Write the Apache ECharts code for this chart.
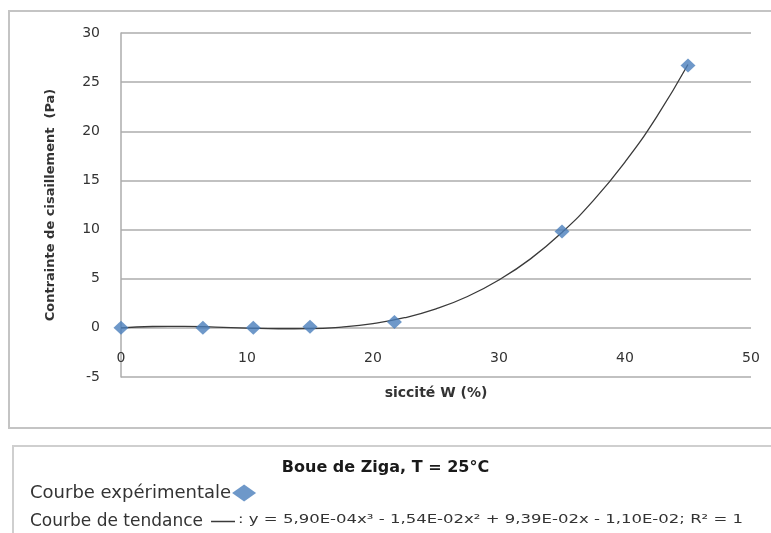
<!DOCTYPE html>
<html>
<head>
<meta charset="utf-8">
<title>Boue de Ziga</title>
<script src="https://cdn.jsdelivr.net/npm/echarts@6/dist/echarts.min.js"></script>
<style>
  html, body { margin: 0; padding: 0; background: #fff; }
  #chart { width: 771px; height: 533px; }
</style>
</head>
<body>
<div id="chart"></div>
<script>
// points expérimentaux : siccité W (%) / contrainte (Pa)
const siccite = [0, 6.5, 10.5, 15, 21.7, 35, 45];
const contrainte = [0, 0, 0, 0.1, 0.6, 9.8, 26.7];

// courbe de tendance
const trendX = [0, 2.5, 5, 7.5, 10, 12.5, 15, 17.5, 20, 22.5, 25, 27.5, 30, 32.5, 35, 37.5, 40, 42.5, 45];
const trendY = [0, 0.14, 0.15, 0.08, -0.02, -0.09, -0.08, 0.08, 0.43, 1.03, 1.93, 3.19, 4.88, 7.02, 9.71, 12.97, 16.87, 21.45, 26.79];

const xTicks = [0, 10, 20, 30, 40, 50];
const yTicks = [-5, 0, 5, 10, 15, 20, 25, 30];

const titre = "Boue de Ziga, T = 25°C";
const equation = ": y = 5,90E-04x³ - 1,54E-02x² + 9,39E-02x - 1,10E-02; R² = 1";

const font = "'DejaVu Sans', 'Liberation Sans', sans-serif";
const gridColor = "#adadad";
const textColor = "#333";

const chart = echarts.init(document.getElementById("chart"));

const option = {
  animation: false,
  textStyle: { fontFamily: font },
  title: {
    text: titre,
    left: "center",
    top: 455,
    textStyle: { fontSize: 16, fontWeight: "bold", color: "#1a1a1a", fontFamily: font }
  },
  // deux légendes : l'icône est à droite du texte
  legend: [
    {
      data: ["Courbe expérimentale"],
      left: 25,
      top: 479,
      align: "right",
      itemWidth: 24,
      itemHeight: 17,
      itemGap: 2,
      textStyle: { fontSize: 18, color: textColor, fontFamily: font, padding: [0, -4, 0, 0] }
    },
    {
      data: ["Courbe de tendance"],
      left: 25,
      top: 508,
      align: "right",
      icon: "rect",
      itemWidth: 24,
      itemHeight: 1.5,
      textStyle: { fontSize: 17, color: textColor, fontFamily: font, padding: [0, 3, 0, 0] }
    }
  ],
  graphic: [
    // cadre du graphique
    { type: "rect", shape: { x: 9, y: 11, width: 770, height: 417 }, style: { fill: null, stroke: "#c4c4c4", lineWidth: 2 }, z: -1 },
    // cadre de la légende
    { type: "rect", shape: { x: 13, y: 446, width: 770, height: 100 }, style: { fill: null, stroke: "#cfcfcf", lineWidth: 2 }, z: -1 },
    { type: "text", x: 238, y: 513, scaleX: 1.27, style: { text: equation, fontSize: 13, fill: textColor, fontFamily: font } }
  ],
  grid: { left: 121, top: 33, width: 630, height: 344, containLabel: false },
  xAxis: {
    type: "value",
    min: xTicks[0],
    max: xTicks[xTicks.length - 1],
    interval: 10,
    name: "siccité W (%)",
    nameLocation: "middle",
    nameGap: 9,
    nameTextStyle: { fontSize: 14, fontWeight: "bold", color: textColor, fontFamily: font },
    axisLine: { show: false },
    axisTick: { show: false },
    // les étiquettes sont placées entre 0 et -5, comme dans l'original
    axisLabel: { margin: -26, fontSize: 14, color: textColor, fontFamily: font },
    splitLine: { show: false }
  },
  yAxis: {
    type: "value",
    min: yTicks[0],
    max: yTicks[yTicks.length - 1],
    interval: 5,
    name: "Contrainte de cisaillement  (Pa)",
    nameLocation: "middle",
    nameGap: 64,
    nameTextStyle: { fontSize: 13, fontWeight: "bold", color: textColor, fontFamily: font },
    axisLine: { show: true, onZero: false, lineStyle: { color: gridColor, width: 1.5 } },
    axisTick: { show: false },
    axisLabel: { margin: 21, fontSize: 14, color: textColor, fontFamily: font },
    splitLine: { show: true, lineStyle: { color: gridColor, width: 1.5 } }
  },
  series: [
    {
      name: "Courbe de tendance",
      type: "line",
      data: trendX.map((x, i) => [x, trendY[i]]),
      smooth: true,
      symbol: "none",
      color: "#3a3a3a",
      lineStyle: { color: "#3a3a3a", width: 1.3 },
      z: 3
    },
    {
      name: "Courbe expérimentale",
      type: "scatter",
      data: siccite.map((x, i) => [x, contrainte[i]]),
      symbol: "diamond",
      symbolSize: [15, 14],
      itemStyle: { color: "#4a7ebb" },
      z: 4
    }
  ]
};

chart.setOption(option);
</script>
</body>
</html>
